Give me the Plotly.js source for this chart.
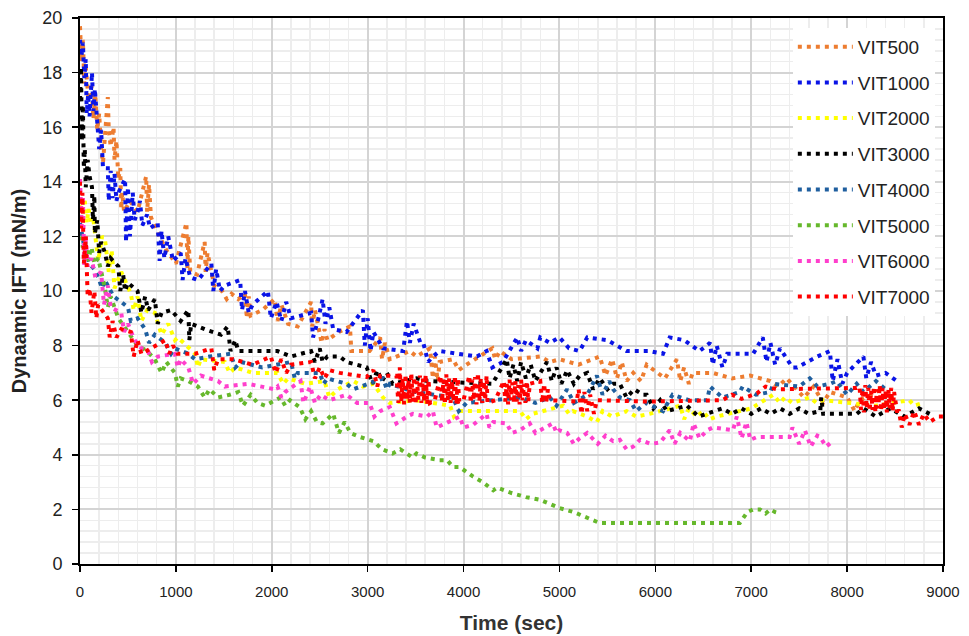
<!DOCTYPE html>
<html><head><meta charset="utf-8">
<script src="https://cdn.plot.ly/plotly-3.0.1.min.js"></script>
<style>html,body{margin:0;padding:0;background:#fff}#chart{width:969px;height:636px}</style>
</head><body><div id="chart"></div>
<script>
// Time (sec), Dynamic IFT (mN/m) pairs
const seriesNames = ["VIT500","VIT1000","VIT2000","VIT3000","VIT4000","VIT5000","VIT6000","VIT7000"];
const seriesColors = ["#ed7d31","#0a14e6","#ffff00","#000000","#1f5f9f","#66b82c","#ff3fcc","#ff0000"];

const vit500 = [[0,19.7],[15,18.4],[30,19.2],[45,17.6],[60,18.2],[90,17.0],[120,17.5],[140,16.3],[160,17.2],[180,15.9],[200,16.5],[220,15.2],[240,14.7],[260,15.6],[290,17.1],[300,15.9],[320,15.3],[350,16.0],[360,14.8],[380,15.5],[400,14.1],[420,14.5],[430,13.0],[440,13.6],[460,12.9],[520,13.3],[600,12.9],[690,14.2],[700,12.9],[720,13.9],[740,12.7],[800,12.2],[900,11.5],[1000,11.0],[1110,12.5],[1120,10.8],[1130,12.0],[1150,10.7],[1220,10.6],[1300,11.8],[1310,10.7],[1330,11.4],[1400,10.2],[1480,10.0],[1530,9.7],[1580,9.9],[1650,9.7],[1720,9.9],[1740,9.0],[1760,9.8],[1780,9.1],[1900,9.3],[2030,9.7],[2060,8.9],[2100,9.5],[2170,8.8],[2270,8.7],[2410,9.6],[2420,8.7],[2450,9.3],[2480,8.8],[2520,8.1],[2550,8.6],[2580,8.2],[2700,8.5],[2815,8.7],[2830,7.8],[2900,7.8],[3020,7.8],[3130,8.3],[3150,7.5],[3180,8.1],[3230,7.5],[3440,7.8],[3510,7.6],[3650,7.9],[3680,6.8],[3700,7.6],[3730,6.7],[3750,7.4],[3890,7.5],[3950,7.1],[4030,7.3],[4300,7.9],[4330,7.5],[4380,7.8],[4500,7.5],[4800,7.6],[4900,7.4],[5000,7.5],[5200,7.3],[5420,7.6],[5480,6.9],[5550,7.5],[5600,6.8],[5650,7.4],[5700,6.7],[5770,7.0],[5850,6.7],[5910,7.3],[6100,6.8],[6225,7.5],[6260,6.7],[6300,7.2],[6350,6.6],[6390,7.0],[6600,7.0],[6800,6.8],[6990,6.9],[7200,6.7],[7280,6.5],[7370,6.8],[7480,6.4],[7550,6.1],[7650,6.5],[7750,5.9],[7820,6.3],[8000,6.1],[8080,5.6],[8130,6.0],[8250,6.2],[8350,6.4]];

const vit1000 = [[0,19.2],[15,18.6],[30,19.1],[45,17.8],[60,18.5],[70,16.5],[85,17.2],[100,16.4],[125,18.0],[140,16.6],[155,17.4],[180,16.0],[200,15.2],[220,15.9],[240,14.5],[290,14.5],[300,13.3],[320,14.4],[340,13.4],[360,14.3],[380,13.3],[400,13.6],[470,14.1],[480,11.8],[500,13.8],[520,12.0],[550,13.6],[570,12.6],[600,12.9],[625,13.3],[650,12.4],[700,12.8],[730,12.3],[810,12.5],[830,11.1],[850,12.2],[880,11.2],[920,12.0],[970,11.1],[1050,11.4],[1070,10.4],[1100,11.2],[1150,10.5],[1230,10.4],[1370,11.0],[1390,10.0],[1420,10.8],[1460,10.0],[1510,10.2],[1670,10.4],[1690,9.3],[1720,10.0],[1760,9.2],[1800,9.5],[1960,10.0],[1990,9.0],[2050,9.6],[2100,8.9],[2150,9.6],[2200,9.0],[2410,9.2],[2430,8.3],[2480,8.9],[2530,9.7],[2560,8.8],[2600,9.4],[2640,8.6],[2780,8.5],[2950,9.3],[2970,8.0],[3000,9.0],[3030,7.8],[3060,8.5],[3160,7.9],[3370,7.8],[3410,8.9],[3440,8.1],[3480,8.8],[3550,8.1],[3580,8.1],[3630,7.4],[3680,7.6],[3750,7.8],[4140,7.6],[4240,7.8],[4300,7.2],[4410,7.4],[4560,8.3],[4600,7.8],[4650,8.2],[4770,7.9],[4800,8.3],[4900,8.1],[5000,8.3],[5100,7.9],[5210,7.8],[5290,8.3],[5500,8.2],[5700,7.8],[5940,7.8],[6080,7.7],[6150,8.3],[6300,8.2],[6460,7.8],[6570,8.1],[6600,7.3],[6640,8.0],[6700,7.2],[6750,7.7],[7020,7.7],[7120,8.3],[7160,7.4],[7200,8.1],[7250,7.3],[7300,7.9],[7430,7.2],[7480,7.2],[7690,7.6],[7820,7.8],[7850,6.7],[7900,7.5],[7950,6.6],[8000,7.0],[8170,7.6],[8200,6.8],[8250,7.4],[8300,6.9],[8400,7.0],[8520,6.7]];

const vit2000 = [[0,13.0],[50,13.3],[70,12.5],[90,13.0],[115,12.5],[140,12.6],[190,11.1],[230,12.0],[260,11.9],[300,10.7],[330,11.5],[360,10.1],[430,10.7],[500,10.1],[530,9.9],[560,9.3],[600,9.8],[640,8.9],[700,9.3],[780,9.2],[850,8.4],[920,8.8],[990,8.2],[1020,8.3],[1200,7.7],[1230,7.2],[1260,7.5],[1510,7.4],[1560,7.0],[1620,7.2],[1800,7.0],[2060,7.0],[2120,6.6],[2170,6.8],[2350,6.6],[2550,6.7],[2600,6.1],[2690,6.4],[2850,6.7],[2950,6.5],[3060,6.6],[3160,6.1],[3230,5.9],[3500,6.0],[3860,5.8],[3900,5.4],[3960,5.6],[4200,5.6],[4590,5.6],[4650,5.3],[4720,5.5],[5040,5.8],[5100,5.5],[5140,5.6],[5290,5.4],[5390,5.2],[5450,5.6],[5550,5.4],[5630,5.5],[5700,5.6],[5800,5.4],[5940,5.5],[6260,5.8],[6300,5.3],[6350,5.7],[6430,5.4],[6500,5.6],[6560,5.3],[6640,5.4],[7000,5.7],[7230,6.2],[7300,5.9],[7350,6.1],[7430,5.9],[7610,6.1],[7680,5.9],[7750,6.0],[8000,5.9],[8300,5.8],[8650,6.0],[8700,5.8],[8790,5.9]];

const vit3000 = [[0,17.0],[10,18.2],[20,15.5],[30,16.8],[40,14.5],[50,15.2],[60,13.8],[80,14.8],[100,14.2],[125,13.8],[135,12.6],[150,13.5],[155,12.1],[180,12.6],[200,11.4],[220,11.8],[260,11.4],[290,10.9],[320,11.2],[400,10.9],[420,10.0],[450,10.6],[470,10.0],[500,10.3],[600,10.0],[640,9.2],[680,9.8],[710,9.3],[780,9.7],[810,8.8],[850,9.2],[950,9.3],[1050,8.9],[1130,9.3],[1140,8.2],[1160,8.8],[1300,8.6],[1470,8.4],[1540,8.7],[1570,7.8],[1620,8.2],[1650,7.8],[2060,7.8],[2200,7.6],[2410,7.8],[2450,7.4],[2500,7.9],[2530,7.4],[2580,7.6],[2710,7.6],[2780,7.4],[2990,7.2],[3050,6.6],[3100,7.1],[3150,6.7],[3200,7.0],[3260,6.6],[3510,6.8],[3620,6.7],[4300,6.6],[4450,7.5],[4480,6.8],[4520,7.3],[4560,6.7],[4600,7.4],[4650,6.8],[4700,7.3],[4750,6.7],[4800,7.0],[4870,7.4],[4920,6.7],[4970,7.2],[5020,6.6],[5080,7.1],[5150,6.6],[5210,6.9],[5290,7.0],[5350,6.4],[5420,6.8],[5500,6.4],[5560,6.6],[5630,6.6],[5700,6.1],[5780,6.4],[5870,6.2],[5910,6.2],[5980,5.7],[6050,6.0],[6120,5.6],[6330,5.8],[6450,5.4],[6600,5.6],[6700,5.7],[6800,5.5],[6900,5.7],[7000,5.5],[7100,5.7],[7200,5.5],[7300,5.7],[7400,5.5],[7500,5.7],[7600,5.5],[7720,5.6],[7730,6.1],[7750,5.5],[8100,5.5],[8170,5.7],[8300,5.4],[8450,5.7],[8600,5.4],[8750,5.7],[8860,5.5]];

const vit4000 = [[0,12.5],[50,11.5],[100,11.0],[150,10.8],[190,10.5],[230,10.1],[260,10.4],[350,9.8],[430,9.6],[500,9.4],[530,8.9],[600,9.0],[680,8.6],[720,8.1],[780,8.4],[890,8.1],[950,7.7],[990,7.9],[1130,7.7],[1200,7.5],[1350,7.6],[1570,7.7],[1620,7.2],[1680,7.4],[1900,7.2],[2200,7.4],[2240,6.8],[2270,7.0],[2500,7.0],[2540,6.6],[2580,6.8],[2780,6.6],[2850,6.4],[3000,6.6],[3160,6.8],[3200,6.4],[3230,6.6],[3500,6.3],[3700,6.2],[3890,6.1],[3950,5.6],[4030,5.9],[4300,6.0],[4600,6.1],[4750,5.9],[4900,6.1],[4970,5.8],[5080,6.4],[5150,5.9],[5290,6.2],[5390,6.9],[5450,6.2],[5520,6.7],[5560,6.4],[5630,6.1],[5735,6.0],[5800,5.6],[5900,5.9],[6080,5.6],[6180,6.2],[6350,6.0],[6540,6.0],[6570,6.5],[6700,6.1],[6880,6.3],[6910,6.5],[7050,6.2],[7200,6.3],[7230,6.6],[7500,6.5],[7610,6.8],[7690,6.5],[7820,6.6],[7890,6.7],[8000,6.2],[8100,6.6],[8170,6.3],[8300,6.7],[8400,6.4]];

const vit5000 = [[0,12.0],[30,11.6],[50,12.0],[80,11.1],[120,11.6],[150,11.0],[190,11.2],[260,10.1],[290,9.4],[320,9.8],[400,9.0],[500,8.5],[600,8.0],[700,7.8],[780,7.5],[850,7.0],[900,7.4],[990,7.0],[1020,6.5],[1050,6.8],[1130,6.7],[1230,6.5],[1300,6.1],[1350,6.4],[1440,6.1],[1560,6.2],[1650,6.3],[1700,5.8],[1780,6.2],[1850,5.9],[1930,5.8],[2090,6.1],[2140,5.8],[2190,6.0],[2290,5.75],[2350,5.3],[2410,5.6],[2470,5.2],[2530,5.15],[2640,5.5],[2700,4.8],[2760,5.2],[2820,4.8],[2920,4.65],[3020,4.54],[3060,4.5],[3150,4.2],[3260,4.05],[3340,4.2],[3470,3.9],[3510,4.05],[3600,3.9],[3750,3.8],[3830,3.8],[3890,3.55],[3960,3.55],[4100,3.2],[4200,3.0],[4310,2.7],[4350,2.8],[4500,2.6],[4650,2.45],[4800,2.35],[4870,2.25],[5000,2.05],[5150,1.9],[5350,1.6],[5420,1.5],[6880,1.5],[6920,1.7],[6960,1.9],[7020,2.0],[7090,2.0],[7150,1.85],[7200,2.0],[7250,1.9],[7300,1.85]];

const vit6000 = [[0,14.1],[20,12.2],[30,13.5],[45,10.9],[60,12.0],[80,10.9],[120,11.2],[160,10.5],[220,10.7],[250,9.5],[290,10.2],[320,9.4],[430,9.2],[460,8.5],[500,8.8],[570,8.2],[640,7.9],[710,7.8],[750,7.4],[810,7.6],[990,7.7],[1020,7.2],[1050,7.5],[1130,7.2],[1180,6.6],[1260,6.9],[1440,6.7],[1510,6.5],[1750,6.6],[2030,6.4],[2060,6.5],[2100,6.1],[2140,6.3],[2300,6.7],[2330,5.9],[2400,6.5],[2450,5.9],[2510,6.2],[2600,6.0],[2780,6.2],[2890,5.9],[3020,5.9],[3070,5.4],[3130,5.6],[3230,5.75],[3300,5.15],[3410,5.4],[3470,5.5],[3620,5.4],[3680,5.6],[3720,5.0],[3830,5.2],[3960,5.4],[4000,5.0],[4100,5.1],[4240,5.5],[4270,5.0],[4310,5.2],[4450,5.15],[4500,4.8],[4590,4.9],[4690,5.15],[4750,4.8],[4800,4.9],[4930,5.15],[4970,4.8],[5000,4.9],[5080,4.8],[5150,4.4],[5210,4.6],[5290,4.8],[5400,4.4],[5480,4.7],[5560,4.5],[5630,4.55],[5700,4.2],[5770,4.3],[5840,4.55],[5950,4.4],[6050,4.45],[6150,4.9],[6200,4.4],[6260,4.8],[6360,4.5],[6400,5.15],[6460,4.6],[6540,4.9],[6600,5.0],[6810,4.9],[6850,5.4],[6900,4.6],[6950,5.2],[6990,4.55],[7060,4.65],[7400,4.65],[7430,5.0],[7500,4.4],[7560,4.9],[7620,4.3],[7690,4.7],[7720,4.65],[7780,4.3],[7850,4.5]];

const vit7000 = [[0,14.0],[10,12.3],[25,13.6],[40,11.0],[60,12.0],[80,9.8],[100,10.1],[120,9.2],[150,10.0],[170,9.0],[190,9.5],[290,9.0],[310,8.3],[340,8.9],[380,8.3],[430,8.6],[530,8.5],[560,7.6],[600,8.2],[640,7.7],[890,8.2],[930,7.7],[970,8.0],[1020,7.7],[1200,7.7],[1370,7.9],[1400,7.1],[1440,7.5],[1600,7.5],[1800,7.3],[1990,7.6],[2040,7.0],[2100,7.5],[2150,7.0],[2200,7.3],[2410,7.4],[2450,6.8],[2500,7.2],[2550,6.8],[2600,7.1],[2710,7.0],[2990,6.85],[3060,7.1],[3100,6.5],[3130,6.9],[3300,6.9],
[3320,5.9],[3335,7.2],[3350,5.95],[3365,6.8],[3380,5.85],[3395,6.95],[3410,6.0],[3425,6.75],[3440,5.9],[3455,7.0],[3470,5.95],[3485,6.85],[3500,5.85],[3515,6.7],[3530,6.0],[3545,6.9],[3560,5.9],[3575,6.8],[3590,5.95],[3605,6.95],[3620,5.85],[3635,6.75],[3650,5.9],[3700,6.0],
[3760,6.9],[3775,5.95],[3790,6.75],[3805,5.85],[3820,6.95],[3835,6.0],[3850,6.8],[3865,5.9],[3880,6.7],[3895,5.95],[3910,6.9],[3925,5.85],[3940,6.8],[3955,5.95],[4000,6.0],
[4060,6.9],[4075,5.9],[4090,6.75],[4105,6.0],[4120,6.85],[4135,5.85],[4150,7.0],[4165,5.95],[4180,6.8],[4195,5.9],[4210,6.7],[4225,6.0],[4240,6.9],[4250,5.9],[4330,6.0],
[4420,6.7],[4435,5.95],[4450,6.6],[4465,5.85],[4480,6.75],[4495,6.0],[4510,6.65],[4525,5.9],[4540,6.7],[4555,5.95],[4570,6.55],[4585,5.85],[4600,6.75],[4615,6.0],[4630,6.6],[4645,5.9],[4660,6.7],[4675,5.95],[4690,6.6],
[4800,6.7],[4820,5.9],[4840,6.6],[4860,5.9],[4880,6.4],[4900,6.0],[5180,5.95],[5200,6.4],[5230,5.5],[5260,6.3],[5290,5.6],[5320,6.2],[5360,5.5],[5390,6.0],[5940,5.95],[6700,6.0],[6800,6.2],[6900,6.05],[7060,6.25],[7150,6.5],[7270,6.4],[8100,6.45],
[8130,6.5],[8145,5.65],[8160,6.4],[8175,5.55],[8190,6.55],[8205,5.7],[8220,6.45],[8235,5.6],[8250,6.35],[8265,5.65],[8280,6.5],[8295,5.55],[8310,6.4],[8325,5.7],[8340,6.55],[8355,5.6],[8370,6.45],[8385,5.65],[8400,6.35],[8415,5.55],[8430,6.4],[8445,5.7],[8460,6.45],[8475,5.6],[8490,6.3],[8520,5.6],
[8540,5.6],[8570,5.0],[8600,5.5],[8650,5.1],[8700,5.6],[8750,5.1],[8800,5.5],[8860,5.2],[8950,5.4],[9000,5.4]];

const allSeries = [vit500, vit1000, vit2000, vit3000, vit4000, vit5000, vit6000, vit7000];

const traces = allSeries.map((s, i) => ({
  type: 'scatter',
  mode: 'lines',
  name: seriesNames[i],
  legendgroup: seriesNames[i],
  x: s.map(p => p[0]),
  y: s.map(p => p[1]),
  line: {color: seriesColors[i], width: 4, dash: '4px,5px'},
  hoverinfo: 'skip'
}));

const layout = {
  width: 969, height: 636,
  margin: {l: 80, r: 26, t: 18, b: 72},
  paper_bgcolor: '#ffffff', plot_bgcolor: '#ffffff',
  font: {family: 'Liberation Sans, Arial, sans-serif', color: '#222222'},
  showlegend: true,
  legend: {
    x: 0.826, y: 0.982, xanchor: 'left', yanchor: 'top',
    bgcolor: '#ffffff', borderwidth: 0,
    font: {size: 19, color: '#222222'},
    tracegroupgap: 8, traceorder: 'grouped', itemwidth: 55
  },
  xaxis: {
    range: [0, 9000], dtick: 1000, tick0: 0,
    showgrid: true, gridcolor: '#d4d4d4', gridwidth: 2,
    minor: {dtick: 200, showgrid: true, gridcolor: '#ededed', gridwidth: 1.5},
    showline: true, linecolor: '#000000', linewidth: 2, mirror: true,
    ticks: 'outside', ticklen: 6, tickwidth: 1.5, tickcolor: '#000000',
    ticklabelstandoff: 7,
    tickfont: {size: 15, color: '#222222'},
    zeroline: false,
    title: {text: '<b>Time (sec)</b>', font: {size: 21, color: '#333333'}, standoff: 16}
  },
  yaxis: {
    range: [0, 20], dtick: 2, tick0: 0,
    showgrid: true, gridcolor: '#d4d4d4', gridwidth: 2,
    minor: {dtick: 0.4, showgrid: true, gridcolor: '#ededed', gridwidth: 1.5},
    showline: true, linecolor: '#000000', linewidth: 2, mirror: true,
    ticks: 'outside', ticklen: 6, tickwidth: 1.5, tickcolor: '#000000',
    ticklabelstandoff: 6,
    tickfont: {size: 18, color: '#222222'},
    zeroline: false,
    title: {text: '<b>Dynaamic IFT (mN/m)</b>', font: {size: 20, color: '#222222'}, standoff: 10}
  }
};

Plotly.newPlot('chart', traces, layout, {displayModeBar: false, staticPlot: true});
</script>
</body></html>
